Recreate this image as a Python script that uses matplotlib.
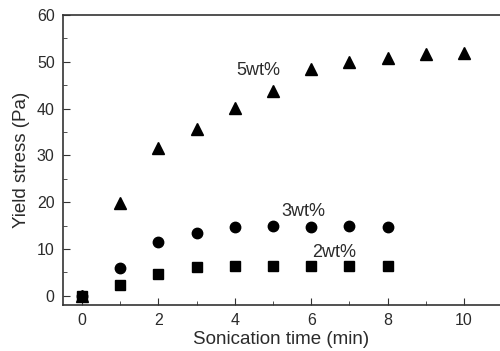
import matplotlib
matplotlib.use("Agg")
import matplotlib.pyplot as plt
from matplotlib.ticker import MultipleLocator

plt.rcParams["font.family"] = ["Liberation Sans", "DejaVu Sans"]

time_5 = [0, 1, 2, 3, 4, 5, 6, 7, 8, 9, 10]
stress_5 = [0, 19.8, 31.6, 35.6, 40.2, 43.8, 48.4, 49.9, 50.9, 51.6, 51.8]

time_3 = [0, 1, 2, 3, 4, 5, 6, 7, 8]
stress_3 = [0, 6.0, 11.4, 13.5, 14.6, 14.8, 14.6, 14.9, 14.7]

time_2 = [0, 1, 2, 3, 4, 5, 6, 7, 8]
stress_2 = [0, 2.2, 4.6, 6.1, 6.4, 6.4, 6.4, 6.4, 6.4]

txt = "#2b2b2b"

fig = plt.figure(figsize=(5.0, 3.51), dpi=100)
ax = fig.add_axes([0.126, 0.131, 0.874, 0.826])

ax.plot(time_5, stress_5, "^", color="black", markersize=9, linestyle="none")
ax.plot(time_3, stress_3, "o", color="black", markersize=7.5, linestyle="none")
ax.plot(time_2, stress_2, "s", color="black", markersize=6.5, linestyle="none")

ax.text(4.6, 48.2, "5wt%", fontsize=13, color=txt, ha="center", va="center")
ax.text(5.8, 18.0, "3wt%", fontsize=13, color=txt, ha="center", va="center")
ax.text(6.6, 9.3, "2wt%", fontsize=13, color=txt, ha="center", va="center")

ax.set_xlim(-0.5, 10.94)
ax.set_ylim(-2, 60)
ax.xaxis.set_major_locator(MultipleLocator(2))
ax.xaxis.set_minor_locator(MultipleLocator(1))
ax.yaxis.set_major_locator(MultipleLocator(10))
ax.yaxis.set_minor_locator(MultipleLocator(5))
ax.tick_params(which="both", direction="in", labelsize=11.5, labelcolor=txt, color="#333333")
ax.tick_params(which="major", length=5, pad=6)
ax.tick_params(which="minor", length=3)
ax.spines["right"].set_visible(False)
for s in ["left", "bottom", "top"]:
    ax.spines[s].set_color("#333333")
    ax.spines[s].set_linewidth(1.2)

ax.set_xlabel("Sonication time (min)", fontsize=13.5, color=txt, labelpad=2)
ax.set_ylabel("Yield stress (Pa)", fontsize=13.5, color=txt, labelpad=5)

fig.savefig("out.png", dpi=100)
